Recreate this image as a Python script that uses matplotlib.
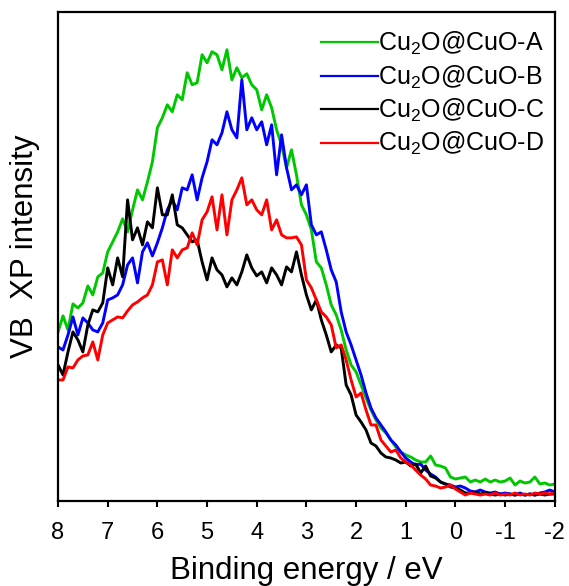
import numpy as np
import matplotlib
matplotlib.use("Agg")
import matplotlib.pyplot as plt

plt.rcParams['font.family'] = ['Liberation Sans', 'DejaVu Sans']
plt.rcParams['mathtext.fontset'] = 'custom'
plt.rcParams['mathtext.rm'] = 'Liberation Sans'
plt.rcParams['mathtext.it'] = 'Liberation Sans'
plt.rcParams['mathtext.default'] = 'regular'

energy = np.linspace(8, -2, 101)

labels = [r'Cu$_2$O@CuO-A', r'Cu$_2$O@CuO-B', r'Cu$_2$O@CuO-C', r'Cu$_2$O@CuO-D']
colors = ['#00C800', '#0000FF', '#000000', '#FF0000']

series_a = [168, 184, 170, 196, 192, 197, 214, 205, 223, 227,
            248, 258, 268, 281, 268, 290, 310, 300, 318, 338,
            372, 382, 395, 388, 405, 400, 427, 415, 417, 445,
            437, 448, 445, 430, 450, 420, 432, 422, 426, 415,
            410, 390, 405, 392, 370, 355, 332, 350, 325, 295,
            285, 270, 238, 232, 215, 195, 185, 170, 150, 135,
            128, 115, 102, 90, 80, 72, 67, 60, 53, 48,
            45, 43, 40, 38, 38, 44, 35, 34, 32, 23,
            21, 22, 23, 18, 20, 18, 21, 18, 20, 18,
            19, 22, 15, 19, 17, 18, 23, 16, 17, 15, 16]

series_b = [153, 150, 165, 183, 165, 182, 177, 170, 168, 177,
            200, 202, 205, 215, 235, 242, 217, 248, 257, 244,
            257, 272, 290, 300, 290, 312, 310, 325, 300, 322,
            338, 360, 355, 367, 388, 370, 362, 420, 370, 382,
            370, 378, 355, 375, 325, 365, 332, 310, 315, 305,
            315, 275, 265, 268, 250, 230, 218, 188, 168, 155,
            140, 125, 107, 92, 82, 75, 68, 60, 55, 48,
            42, 38, 35, 36, 30, 26, 23, 18, 16, 15,
            13, 14, 12, 9, 8, 10, 8, 7, 8, 6,
            7, 6, 5, 7, 5, 6, 5, 7, 8, 10, 8]

series_c = [135, 125, 148, 168, 160, 148, 175, 190, 188, 197,
            232, 215, 242, 223, 300, 260, 272, 255, 278, 272,
            312, 285, 285, 305, 275, 272, 265, 258, 260, 238,
            220, 242, 230, 225, 213, 222, 215, 228, 245, 232,
            224, 228, 217, 232, 225, 215, 233, 228, 248, 225,
            205, 190, 200, 180, 165, 148, 155, 152, 115, 105,
            85, 78, 70, 57, 54, 47, 43, 42, 40, 37,
            38, 34, 36, 27, 34, 24, 22, 18, 16, 13,
            12, 10, 7, 7, 8, 6, 7, 6, 5, 6,
            5, 6, 5, 6, 5, 6, 5, 6, 5, 6, 6]

series_d = [120, 120, 133, 132, 140, 144, 145, 158, 140, 165,
            177, 180, 183, 182, 189, 195, 198, 202, 205, 215,
            238, 240, 215, 250, 242, 250, 252, 267, 255, 280,
            288, 303, 270, 305, 265, 300, 310, 322, 295, 300,
            290, 285, 300, 270, 280, 265, 262, 262, 263, 255,
            220, 212, 200, 188, 183, 175, 152, 155, 140, 120,
            103, 107, 90, 75, 75, 60, 54, 48, 50, 42,
            38, 35, 30, 25, 21, 15, 14, 12, 13, 15,
            11, 8, 5, 7, 6, 5, 6, 5, 7, 5,
            6, 5, 7, 5, 6, 5, 7, 6, 7, 6, 7]

xticks = [8, 7, 6, 5, 4, 3, 2, 1, 0, -1, -2]

fig = plt.figure(figsize=(5.69, 5.86), dpi=100)
ax = fig.add_axes([0.102, 0.145, 0.873, 0.835])

for ys, lab, col in zip([series_a, series_b, series_c, series_d], labels, colors):
    ax.plot(energy, ys, color=col, lw=2.1, label=lab)

ax.set_xlim(8, -2)
ax.set_ylim(-1, 488)
ax.set_xticks(xticks)
ax.set_xticklabels([str(t) for t in xticks])
ax.set_yticks([])
ax.tick_params(axis='x', direction='out', length=4, width=1.5, labelsize=17, pad=11,
               top=False)
for s in ax.spines.values():
    s.set_linewidth(1.6)

ax.set_xlabel('Binding energy / eV', fontsize=22.5, labelpad=9)
ax.set_ylabel('VB  XP intensity', fontsize=22.5, labelpad=13, y=0.52)

leg = ax.legend(loc='upper right', frameon=False, fontsize=18, handlelength=2.3,
                handletextpad=0.0, labelspacing=0.25, borderaxespad=0.25,
                bbox_to_anchor=(1.012, 0.996))
for line in leg.get_lines():
    line.set_linewidth(1.6)

fig.savefig('out.png', dpi=100)
